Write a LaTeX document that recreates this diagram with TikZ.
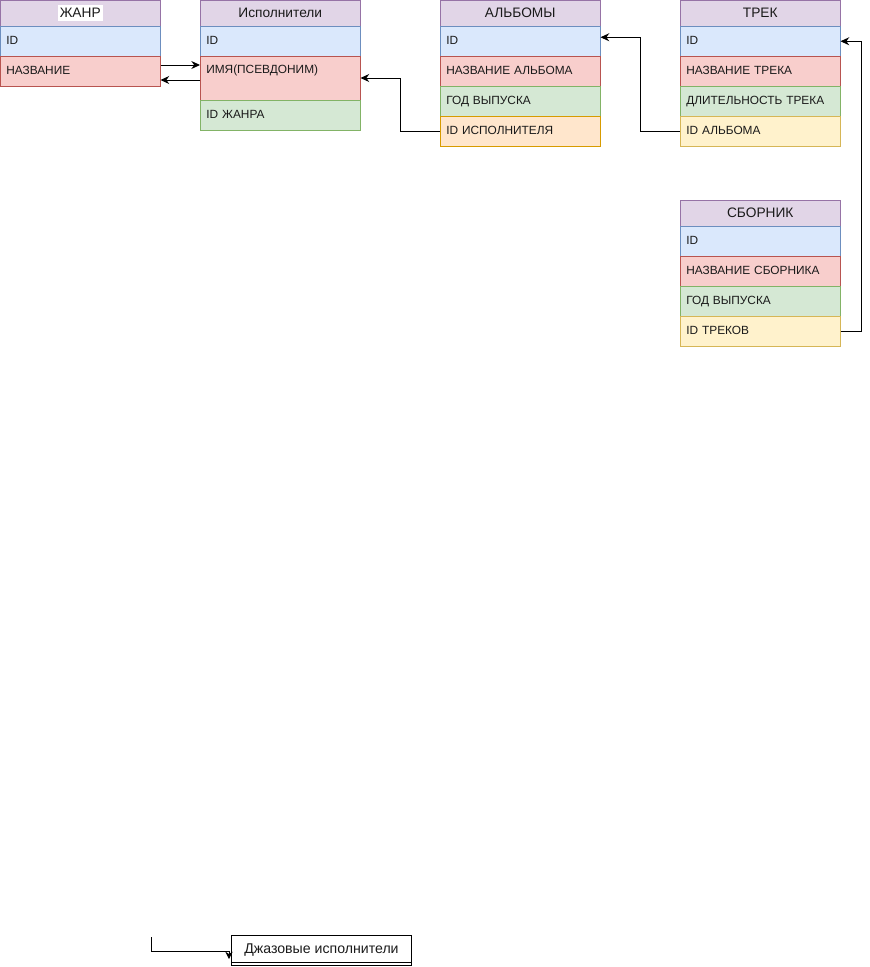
\documentclass[tikz,border=0pt]{standalone}
\usepackage{fontspec}
\setmainfont{Liberation Sans}
\usetikzlibrary{arrows.meta,calc}

\definecolor{hdrfill}{HTML}{E1D5E7}\definecolor{hdrline}{HTML}{9673A6}
\definecolor{bluefill}{HTML}{DAE8FC}\definecolor{blueline}{HTML}{6C8EBF}
\definecolor{redfill}{HTML}{F8CECC}\definecolor{redline}{HTML}{B85450}
\definecolor{greenfill}{HTML}{D5E8D4}\definecolor{greenline}{HTML}{82B366}
\definecolor{orangefill}{HTML}{FFE6CC}\definecolor{orangeline}{HTML}{D79B00}
\definecolor{yellowfill}{HTML}{FFF2CC}\definecolor{yellowline}{HTML}{D6B656}
\definecolor{ink}{HTML}{1A1A1A}

\tikzset{
  hdr/.style={draw=hdrline, fill=hdrfill, anchor=north west, minimum width=120pt,
    minimum height=19.5pt, inner sep=0pt, font=\fontsize{10.3}{11}\selectfont, text=ink},
  cell/.style={anchor=north west, minimum width=120pt, minimum height=22.5pt,
    text width=111pt, inner xsep=4.5pt, inner ysep=0pt, align=left,
    text height=6.4pt, text depth=1.8pt, font=\fontsize{8.9}{10}\selectfont, text=ink},
  tallcell/.style={cell, minimum height=33pt, text depth=13.8pt},
  blue/.style={draw=blueline, fill=bluefill},
  red/.style={draw=redline, fill=redfill},
  green/.style={draw=greenline, fill=greenfill},
  orange/.style={draw=orangeline, fill=orangefill},
  yellow/.style={draw=yellowline, fill=yellowfill},
  conn/.style={draw=black, line width=0.75pt, -{Stealth[length=6.5pt,width=6pt]}},
}

\begin{document}
\begin{tikzpicture}[x=0.75pt,y=-0.75pt]
\useasboundingbox (0,0) rectangle (869,967);

% ЖАНР
\node[hdr] (zh-h) at (0,0) {};
\node[fill=white, inner xsep=1.5pt, inner ysep=2.5pt, font=\fontsize{10.3}{11}\selectfont, text=ink] (zh-title) at (zh-h.center) {ЖАНР};
\node[cell, blue] (zh-id) at (0,26) {ID};
\node[cell, red] (zh-name) at (0,56) {НАЗВАНИЕ};

% Исполнители
\node[hdr] (isp-h) at (200,0) {Исполнители};
\node[cell, blue] (isp-id) at (200,26) {ID};
\node[tallcell, red] (isp-name) at (200,56) {ИМЯ(ПСЕВДОНИМ)};
\node[cell, green] (isp-genre) at (200,100) {ID ЖАНРА};

% АЛЬБОМЫ
\node[hdr] (alb-h) at (440,0) {АЛЬБОМЫ};
\node[cell, blue] (alb-id) at (440,26) {ID};
\node[cell, red] (alb-name) at (440,56) {НАЗВАНИЕ АЛЬБОМА};
\node[cell, green] (alb-year) at (440,86) {ГОД ВЫПУСКА};
\node[cell, orange] (alb-artist) at (440,116) {ID ИСПОЛНИТЕЛЯ};

% ТРЕК
\node[hdr] (trk-h) at (680,0) {ТРЕК};
\node[cell, blue] (trk-id) at (680,26) {ID};
\node[cell, red] (trk-name) at (680,56) {НАЗВАНИЕ ТРЕКА};
\node[cell, green] (trk-len) at (680,86) {ДЛИТЕЛЬНОСТЬ ТРЕКА};
\node[cell, yellow] (trk-album) at (680,116) {ID АЛЬБОМА};

% СБОРНИК
\node[hdr] (sb-h) at (680,200) {СБОРНИК};
\node[cell, blue] (sb-id) at (680,226) {ID};
\node[cell, red] (sb-name) at (680,256) {НАЗВАНИЕ СБОРНИКА};
\node[cell, green] (sb-year) at (680,286) {ГОД ВЫПУСКА};
\node[cell, yellow] (sb-tracks) at (680,316) {ID ТРЕКОВ};

% links between tables
\draw[conn] ($(zh-name.north east)+(0,9)$) -- ($(isp-name.north west)+(0,9)$);
\draw[conn] ($(isp-name.north west)+(0,24)$) -- ($(zh-name.north east)+(0,24)$);
\draw[conn] (alb-artist.west) -- ++(-40,0) |- ($(isp-name.north east)+(0,22)$);
\draw[conn] (trk-album.west) -- ++(-40,0) |- ($(alb-id.east)+(0,-4)$);
\draw[conn] (sb-tracks.east) -- ++(21,0) |- (trk-id.east);

% single entry at the bottom
\node[draw=black, line width=0.75pt, anchor=north west, minimum width=135pt, minimum height=22.5pt,
  inner sep=0pt, font=\fontsize{10.6}{12}\selectfont, text=ink] (jazz) at (231,935) {Джазовые исполнители};
\draw[line width=0.75pt] ($(jazz.south west)+(0,-4)$) -- ($(jazz.south east)+(0,-4)$);
\coordinate (jz-src) at (151,937);
\coordinate (jz-end) at ($(jazz.south west)+(-2,-7)$);
\draw[conn, -{Stealth[length=5.5pt,width=5.5pt]}] (jz-src) |- ($(jz-end)+(0,-8)$) -- (jz-end);
\end{tikzpicture}
\end{document}
